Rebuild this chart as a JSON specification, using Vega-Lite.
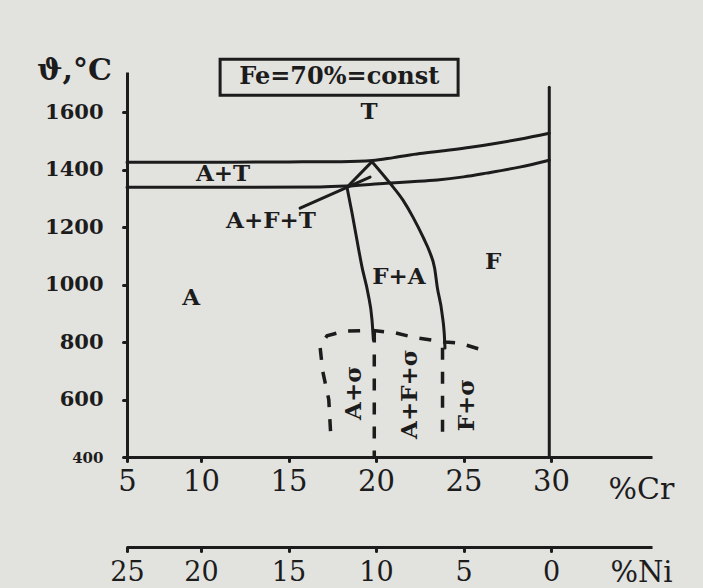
{
  "$schema": "https://vega.github.io/schema/vega-lite/v6.json",
  "width": 525,
  "height": 385,
  "autosize": {"type": "none"},
  "padding": {"left": 127, "top": 72, "right": 51, "bottom": 131},
  "background": "#e2e2df",
  "config": {
    "view": {"stroke": null},
    "axis": {"grid": false, "domainColor": "#1c1c1c", "tickColor": "#1c1c1c", "labelColor": "#1c1c1c", "titleColor": "#1c1c1c", "domainWidth": 3, "tickWidth": 3, "tickSize": 4, "tickCap": "round", "labelFont": "DejaVu Serif", "titleFont": "DejaVu Serif"}
  },
  "datasets": {
    "solid": [
      {"s": "upper", "o": 1, "cr": 5.77, "t": 1426},
      {"s": "upper", "o": 2, "cr": 10, "t": 1426},
      {"s": "upper", "o": 3, "cr": 15, "t": 1427},
      {"s": "upper", "o": 4, "cr": 18, "t": 1428},
      {"s": "upper", "o": 5, "cr": 19.8, "t": 1432},
      {"s": "upper", "o": 6, "cr": 21, "t": 1442},
      {"s": "upper", "o": 7, "cr": 22.5, "t": 1456},
      {"s": "upper", "o": 8, "cr": 24, "t": 1467},
      {"s": "upper", "o": 9, "cr": 25.4, "t": 1478},
      {"s": "upper", "o": 10, "cr": 26.8, "t": 1491},
      {"s": "upper", "o": 11, "cr": 28.2, "t": 1506},
      {"s": "upper", "o": 12, "cr": 29.9, "t": 1527},
      {"s": "lower", "o": 1, "cr": 5.77, "t": 1339},
      {"s": "lower", "o": 2, "cr": 12, "t": 1339},
      {"s": "lower", "o": 3, "cr": 16.8, "t": 1340},
      {"s": "lower", "o": 4, "cr": 18.3, "t": 1343},
      {"s": "lower", "o": 5, "cr": 20.6, "t": 1353},
      {"s": "lower", "o": 6, "cr": 22, "t": 1358},
      {"s": "lower", "o": 7, "cr": 23.5, "t": 1364},
      {"s": "lower", "o": 8, "cr": 25, "t": 1375},
      {"s": "lower", "o": 9, "cr": 26.3, "t": 1388},
      {"s": "lower", "o": 10, "cr": 28.2, "t": 1409},
      {"s": "lower", "o": 11, "cr": 29.9, "t": 1433},
      {"s": "trileft", "o": 1, "cr": 19.77, "t": 1428},
      {"s": "trileft", "o": 2, "cr": 18.34, "t": 1339},
      {"s": "right", "o": 1, "cr": 19.77, "t": 1428},
      {"s": "right", "o": 2, "cr": 20.8, "t": 1353},
      {"s": "right", "o": 3, "cr": 21.54, "t": 1294},
      {"s": "right", "o": 4, "cr": 22.11, "t": 1235},
      {"s": "right", "o": 5, "cr": 22.69, "t": 1165},
      {"s": "right", "o": 6, "cr": 23.09, "t": 1110},
      {"s": "right", "o": 7, "cr": 23.35, "t": 1057},
      {"s": "right", "o": 8, "cr": 23.5, "t": 991},
      {"s": "right", "o": 9, "cr": 23.77, "t": 901},
      {"s": "right", "o": 10, "cr": 23.92, "t": 807},
      {"s": "right", "o": 11, "cr": 23.94, "t": 779},
      {"s": "left", "o": 1, "cr": 18.34, "t": 1339},
      {"s": "left", "o": 2, "cr": 18.63, "t": 1249},
      {"s": "left", "o": 3, "cr": 18.91, "t": 1155},
      {"s": "left", "o": 4, "cr": 19.2, "t": 1061},
      {"s": "left", "o": 5, "cr": 19.54, "t": 970},
      {"s": "left", "o": 6, "cr": 19.77, "t": 877},
      {"s": "left", "o": 7, "cr": 19.85, "t": 807},
      {"s": "leader", "o": 1, "cr": 15.66, "t": 1266},
      {"s": "leader", "o": 2, "cr": 19.66, "t": 1374},
      {"s": "vert30", "o": 1, "cr": 29.9, "t": 400},
      {"s": "vert30", "o": 2, "cr": 29.9, "t": 1687}
    ],
    "dashed": [
      {"s": "dome", "o": 1, "cr": 17.4, "t": 490},
      {"s": "dome", "o": 2, "cr": 17.3, "t": 600},
      {"s": "dome", "o": 3, "cr": 16.95, "t": 700},
      {"s": "dome", "o": 4, "cr": 16.8, "t": 785},
      {"s": "dome", "o": 5, "cr": 17.2, "t": 822},
      {"s": "dome", "o": 6, "cr": 18.2, "t": 838},
      {"s": "dome", "o": 7, "cr": 19.85, "t": 840},
      {"s": "dome", "o": 8, "cr": 21.1, "t": 832},
      {"s": "dome", "o": 9, "cr": 22.2, "t": 816},
      {"s": "dome", "o": 10, "cr": 23.94, "t": 800},
      {"s": "dome", "o": 11, "cr": 24.8, "t": 796},
      {"s": "dome", "o": 12, "cr": 26.2, "t": 770},
      {"s": "vd20", "o": 1, "cr": 19.9, "t": 840},
      {"s": "vd20", "o": 2, "cr": 19.9, "t": 400},
      {"s": "vd24", "o": 1, "cr": 23.8, "t": 780},
      {"s": "vd24", "o": 2, "cr": 23.8, "t": 452}
    ],
    "labels": [
      {"label": "T", "cr": 19.6, "t": 1600},
      {"label": "A+T", "cr": 11.26, "t": 1384},
      {"label": "A+F+T", "cr": 14, "t": 1221},
      {"label": "F+A", "cr": 21.31, "t": 1026},
      {"label": "F", "cr": 26.69, "t": 1078},
      {"label": "A", "cr": 9.43, "t": 953}
    ],
    "vlabels": [
      {"label": "A+σ", "cr": 18.74, "t": 623},
      {"label": "A+F+σ", "cr": 21.94, "t": 619},
      {"label": "F+σ", "cr": 25.2, "t": 581}
    ],
    "box": [
      {"label": "Fe=70%=const", "cr1": 11.09, "cr2": 24.69, "t1": 1659, "t2": 1784, "cr": 17.9, "t": 1721}
    ],
    "ni": [
      {"ni": 24.23}, {"ni": 20}, {"ni": 15}, {"ni": 10}, {"ni": 5}, {"ni": 0}
    ]
  },
  "layer": [
    {
      "layer": [
        {
          "data": {"name": "solid"},
          "mark": {"type": "line", "stroke": "#1c1c1c", "strokeWidth": 3, "strokeCap": "round", "strokeJoin": "round", "interpolate": "monotone"},
          "encoding": {
            "x": {"field": "cr", "type": "quantitative", "scale": {"domain": [5.77, 35.77], "nice": false, "zero": false},
              "axis": {"values": [5.77, 10, 15, 20, 25, 30], "labelExpr": "datum.value < 6 ? '5' : datum.label", "labelFontSize": 29, "labelBaseline": "middle", "labelPadding": 20, "labelFlush": false,
                "title": "%Cr", "titleFontSize": 30, "titleFontWeight": "normal", "titleX": 514, "titleY": 32, "titleAlign": "center", "titleBaseline": "middle"}},
            "y": {"field": "t", "type": "quantitative", "scale": {"domain": [400, 1740], "nice": false, "zero": false},
              "axis": {"values": [400, 600, 800, 1000, 1200, 1400, 1600], "format": "d", "labelFontSize": {"condition": {"test": "datum.value == 400", "value": 15}, "value": 21}, "labelFontWeight": "bold", "labelPadding": 20, "labelFlush": false,
                "title": "ϑ,°C", "titleFontSize": 30, "titleFontWeight": "bold", "titleAngle": 0, "titleX": -53, "titleY": -2, "titleAlign": "center", "titleBaseline": "middle"}},
            "detail": {"field": "s"},
            "order": {"field": "o", "type": "quantitative"}
          }
        },
        {
          "data": {"name": "dashed"},
          "mark": {"type": "line", "stroke": "#1c1c1c", "strokeWidth": 3.5, "strokeDash": [12, 12], "strokeCap": "butt"},
          "encoding": {
            "x": {"field": "cr", "type": "quantitative"},
            "y": {"field": "t", "type": "quantitative"},
            "detail": {"field": "s"},
            "order": {"field": "o", "type": "quantitative"}
          }
        },
        {
          "data": {"name": "box"},
          "mark": {"type": "rect", "fill": null, "fillOpacity": 0, "stroke": "#1c1c1c", "strokeWidth": 3},
          "encoding": {
            "x": {"field": "cr1", "type": "quantitative"},
            "x2": {"field": "cr2"},
            "y": {"field": "t1", "type": "quantitative"},
            "y2": {"field": "t2"}
          }
        },
        {
          "data": {"name": "box"},
          "mark": {"type": "text", "font": "DejaVu Serif", "fontWeight": "bold", "fontSize": 24, "color": "#1c1c1c", "align": "center", "baseline": "middle"},
          "encoding": {
            "x": {"field": "cr", "type": "quantitative"},
            "y": {"field": "t", "type": "quantitative"},
            "text": {"field": "label"}
          }
        },
        {
          "data": {"name": "labels"},
          "mark": {"type": "text", "font": "DejaVu Serif", "fontWeight": "bold", "fontSize": 23, "color": "#1c1c1c", "align": "center", "baseline": "middle"},
          "encoding": {
            "x": {"field": "cr", "type": "quantitative"},
            "y": {"field": "t", "type": "quantitative"},
            "text": {"field": "label"}
          }
        },
        {
          "data": {"name": "vlabels"},
          "mark": {"type": "text", "font": "DejaVu Serif", "fontWeight": "bold", "fontSize": 23, "color": "#1c1c1c", "align": "center", "baseline": "middle", "angle": 270},
          "encoding": {
            "x": {"field": "cr", "type": "quantitative"},
            "y": {"field": "t", "type": "quantitative"},
            "text": {"field": "label"}
          }
        }
      ]
    },
    {
      "data": {"name": "ni"},
      "mark": {"type": "point", "opacity": 0},
      "encoding": {
        "x": {"field": "ni", "type": "quantitative", "scale": {"domain": [24.23, -5.77], "nice": false, "zero": false},
          "axis": {"orient": "bottom", "offset": 90, "values": [24.23, 20, 15, 10, 5, 0], "labelExpr": "datum.value > 24 ? '25' : datum.label", "labelFontSize": 27, "labelBaseline": "middle", "labelPadding": 21, "labelFlush": false,
            "title": "%Ni", "titleFontSize": 29, "titleFontWeight": "normal", "titleX": 514, "titleY": 25, "titleAlign": "center", "titleBaseline": "middle"}}
      }
    }
  ],
  "resolve": {"scale": {"x": "independent"}}
}
